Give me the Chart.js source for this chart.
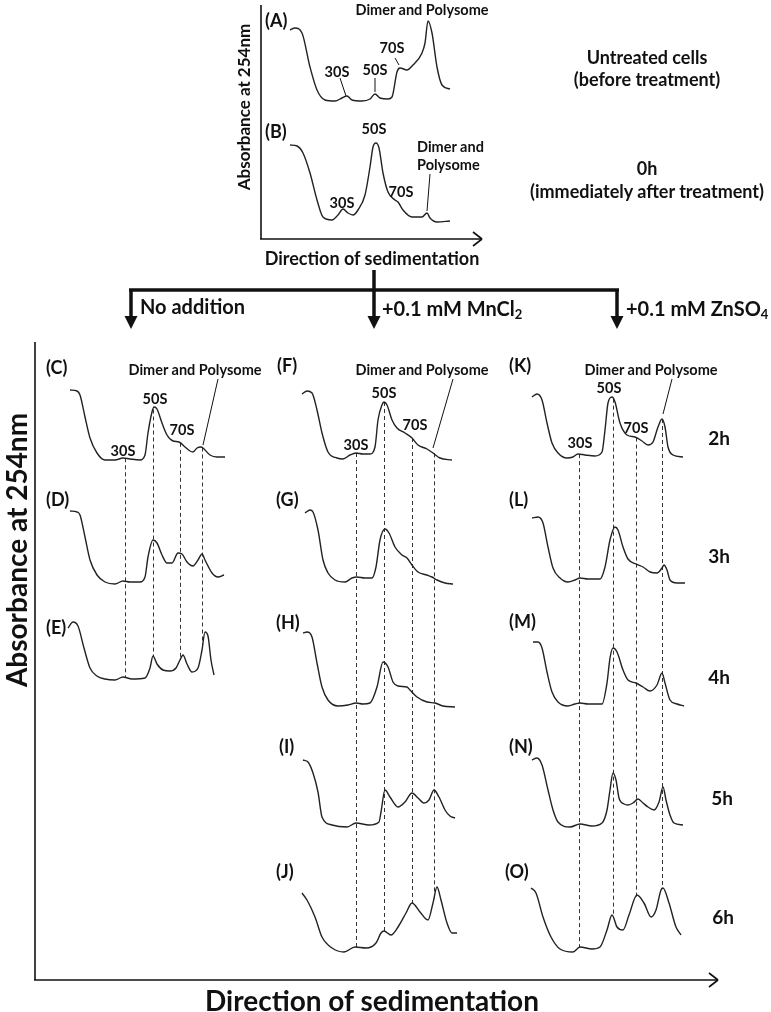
<!DOCTYPE html>
<html>
<head>
<meta charset="utf-8">
<script src="https://cdn.jsdelivr.net/npm/chart.js@4.4.0/dist/chart.umd.min.js"></script>
<style>
  body { margin: 0; background: #fff; }
  #page { position: relative; width: 771px; height: 1012px; overflow: hidden;
          font-family: Lato, "Open Sans", sans-serif; font-weight: 700; color: #111; }
  #page canvas { position: absolute; }
  .lbl { position: absolute; white-space: nowrap; line-height: 1; }
  sub { font-size: 0.65em; vertical-align: -0.25em; line-height: 0; }
</style>
</head>
<body>
<div id="page">
  <canvas id="frame" width="771" height="1012" style="left:0;top:0"></canvas>
  <canvas id="colTop" width="200" height="250" style="left:280px;top:0"></canvas>
  <canvas id="colLeft" width="180" height="370" style="left:60px;top:330px"></canvas>
  <canvas id="colMid" width="190" height="640" style="left:290px;top:330px"></canvas>
  <canvas id="colRight" width="180" height="640" style="left:520px;top:330px"></canvas>
</div>
<script>
// ---- profiles: sedimentation position vs absorbance (A254, arbitrary units) ----
const sedA = [10, 15, 22, 30, 37, 45, 55, 62, 67, 72, 82, 90, 95, 100, 108, 112, 117, 120, 127, 133, 142, 145, 148, 152, 157, 162, 170];
const absA = [71, 73, 68, 34, 11, 1, 0, 3, 5, 1, 0, 2, 7, 3, 2, 4, 29, 33, 31, 36, 48, 58, 80, 68, 34, 16, 12];

const sedB = [10, 17, 23, 30, 37, 43, 52, 58, 63, 68, 73, 78, 85, 90, 93, 96, 99, 103, 108, 115, 118, 123, 132, 142, 147, 150, 157, 170];
const absB = [77, 76, 69, 49, 22, 5, 2, 7, 13, 9, 7, 12, 27, 55, 75, 79, 74, 49, 30, 22, 20, 12, 5, 5, 9, 4, 0, 1];

// no addition
const sedC = [10, 17, 20, 25, 30, 37, 45, 55, 63, 70, 80, 85, 88, 92, 94, 97, 102, 107, 113, 119, 125, 130, 133, 137, 141, 143, 150, 157, 165];
const absC = [70, 69, 65, 43, 22, 7, 0, 0, 2, 1, 0, 5, 27, 48, 53, 51, 37, 25, 19, 18, 13, 9, 8, 12, 13, 12, 5, 3, 3];

const sedD = [10, 17, 20, 25, 30, 37, 45, 55, 63, 70, 80, 85, 88, 93, 97, 102, 107, 112, 118, 122, 127, 133, 138, 142, 145, 152, 158, 164];
const absD = [73, 72, 69, 47, 24, 9, 2, 0, 3, 2, 2, 7, 27, 44, 41, 29, 21, 21, 31, 30, 22, 18, 24, 30, 24, 11, 7, 9];

const sedE = [8, 13, 18, 24, 30, 37, 45, 55, 63, 72, 85, 90, 93, 97, 103, 110, 116, 120, 123, 127, 132, 138, 142, 145, 148, 151, 154];
const absE = [52, 58, 54, 32, 12, 4, 1, 0, 3, 1, 2, 12, 24, 16, 10, 9, 12, 20, 25, 16, 8, 12, 30, 48, 44, 20, 5];

// +0.1 mM MnCl2
const sedF = [12, 17, 22, 27, 32, 38, 47, 53, 60, 66, 73, 80, 85, 88, 92, 94, 97, 102, 107, 115, 122, 128, 137, 143, 150, 162];
const absF = [66, 69, 67, 50, 27, 8, 2, 1, 5, 7, 6, 6, 13, 40, 55, 58, 55, 40, 32, 27, 22, 15, 11, 7, 2, 0];

const sedG = [15, 20, 23, 28, 33, 38, 45, 55, 62, 67, 75, 82, 86, 90, 95, 99, 105, 112, 117, 122, 128, 137, 142, 147, 155, 163];
const absG = [71, 74, 72, 54, 24, 11, 4, 2, 6, 7, 6, 6, 17, 44, 55, 51, 37, 29, 26, 19, 12, 9, 7, 4, 1, 0];

const sedH = [13, 17, 22, 27, 32, 38, 48, 58, 66, 73, 80, 87, 93, 98, 103, 108, 117, 120, 127, 137, 145, 153, 165];
const absH = [74, 75, 70, 44, 20, 7, 1, 2, 4, 3, 4, 20, 45, 40, 25, 21, 20, 17, 10, 5, 4, 1, 0];

const sedI = [13, 18, 23, 28, 32, 42, 57, 66, 79, 89, 91, 95, 100, 108, 115, 122, 128, 134, 139, 144, 149, 155, 160, 165];
const absI = [67, 65, 54, 35, 10, 2, 0, 4, 2, 5, 15, 37, 30, 20, 25, 34, 29, 24, 27, 37, 30, 17, 11, 9];

const sedJ = [12, 17, 25, 32, 42, 54, 65, 76, 86, 91, 94, 101, 108, 116, 122, 130, 138, 143, 147, 151, 157, 162, 167];
const absJ = [59, 52, 35, 15, 4, 0, 5, 4, 9, 19, 21, 17, 25, 39, 49, 40, 32, 49, 65, 52, 29, 19, 19];

// +0.1 mM ZnSO4
const sedK = [12, 17, 22, 27, 32, 38, 47, 53, 58, 65, 75, 82, 85, 88, 92, 95, 100, 107, 115, 122, 128, 133, 138, 142, 145, 148, 153, 163];
const absK = [61, 64, 58, 35, 15, 5, 0, 1, 4, 3, 2, 6, 28, 55, 61, 56, 35, 23, 21, 17, 13, 16, 31, 39, 31, 11, 3, 1];

const sedL = [12, 18, 23, 28, 33, 40, 48, 55, 60, 68, 80, 85, 90, 95, 98, 103, 108, 116, 123, 130, 137, 142, 144, 147, 150, 157, 165];
const absL = [65, 66, 60, 36, 15, 5, 1, 3, 5, 4, 4, 16, 43, 56, 53, 36, 24, 19, 16, 11, 10, 15, 18, 13, 3, 0, 0];

const sedM = [13, 18, 22, 27, 32, 38, 48, 55, 60, 68, 82, 87, 90, 93, 97, 103, 108, 116, 123, 130, 137, 142, 145, 150, 157, 164];
const absM = [64, 64, 58, 34, 14, 4, 0, 2, 3, 2, 2, 23, 48, 58, 54, 36, 26, 23, 19, 15, 21, 33, 23, 6, 2, 0];

const sedN = [12, 17, 22, 28, 33, 38, 50, 60, 72, 82, 87, 90, 93, 96, 99, 104, 108, 113, 118, 123, 128, 134, 139, 143, 146, 150, 154, 163];
const absN = [67, 69, 62, 37, 17, 5, 0, 3, 1, 4, 17, 37, 54, 47, 29, 23, 22, 24, 28, 24, 20, 17, 25, 40, 27, 12, 4, 2];

const sedO = [11, 16, 23, 31, 40, 53, 60, 72, 80, 87, 92, 97, 103, 109, 117, 124, 131, 136, 141, 143, 149, 156, 161];
const absO = [64, 59, 35, 15, 3, 0, 5, 3, 5, 22, 37, 25, 22, 37, 57, 49, 35, 42, 62, 64, 49, 25, 17];

// peak positions (30S, 50S, 70S, dimer/polysome) marked by dashed lines
const peaksNoAdd = [65, 93, 120, 142];
const peaksMn = [66, 94, 122, 143.5];
const peaksZn = [59, 93, 116, 142];

const profiles = {
  A: [sedA, absA], B: [sedB, absB],
  C: [sedC, absC], D: [sedD, absD], E: [sedE, absE],
  F: [sedF, absF], G: [sedG, absG], H: [sedH, absH], I: [sedI, absI], J: [sedJ, absJ],
  K: [sedK, absK], L: [sedL, absL], M: [sedM, absM], N: [sedN, absN], O: [sedO, absO],
};

// layout: canvas, panels and the baseline (page y) of each panel
const columns = [
  { id: "colTop", top: 0, height: 250, width: 200, panels: ["A", "B"], bases: [101, 222], peaks: null },
  { id: "colLeft", top: 330, height: 370, width: 180, panels: ["C", "D", "E"], bases: [460, 584, 680], peaks: peaksNoAdd },
  { id: "colMid", top: 330, height: 640, width: 190, panels: ["F", "G", "H", "I", "J"], bases: [460, 584, 707, 827, 952], peaks: peaksMn },
  { id: "colRight", top: 330, height: 640, width: 180, panels: ["K", "L", "M", "N", "O"], bases: [458, 583, 706, 827, 952], peaks: peaksZn },
];

const TRACE = "#222";

function absAt(sed, abs, x) {
  for (let i = 1; i < sed.length; i++) {
    if (x <= sed[i]) {
      const t = (x - sed[i - 1]) / (sed[i] - sed[i - 1]);
      return abs[i - 1] + t * (abs[i] - abs[i - 1]);
    }
  }
  return abs[abs.length - 1];
}

const peakLines = {
  id: "peakLines",
  beforeDatasetsDraw(chart, args, opts) {
    if (!opts.peaks) return;
    const { ctx, scales } = chart;
    const first = opts.panels[0], last = opts.panels[opts.panels.length - 1];
    ctx.save();
    ctx.strokeStyle = "#333";
    ctx.lineWidth = 1;
    ctx.setLineDash([4, 3]);
    opts.peaks.forEach((p) => {
      const [s1, a1] = profiles[first.key];
      const [s2, a2] = profiles[last.key];
      const x = Math.round(scales.x.getPixelForValue(p)) + 0.5;
      const y1 = scales.y.getPixelForValue(absAt(s1, a1, p) + first.off);
      const y2 = scales.y.getPixelForValue(absAt(s2, a2, p) + last.off);
      ctx.beginPath();
      ctx.moveTo(x, y1);
      ctx.lineTo(x, y2);
      ctx.stroke();
    });
    ctx.restore();
  },
};

function createColumn(col) {
  const bottom = col.top + col.height;
  const panels = col.panels.map((key, k) => ({ key, off: bottom - col.bases[k] }));
  const datasets = panels.map(({ key, off }) => {
    const [sed, abs] = profiles[key];
    return {
      label: key,
      data: sed.map((x, i) => ({ x, y: abs[i] + off })),
      borderColor: TRACE,
      borderWidth: 1.4,
      pointRadius: 0,
      fill: false,
      cubicInterpolationMode: "monotone",
    };
  });

  new Chart(document.getElementById(col.id), {
    type: "line",
    data: { datasets },
    options: {
      responsive: false,
      animation: false,
      events: [],
      layout: { padding: 0 },
      plugins: {
        legend: { display: false },
        tooltip: { enabled: false },
        peakLines: { peaks: col.peaks, panels },
      },
      scales: {
        x: { type: "linear", min: 0, max: col.width, display: false },
        y: { type: "linear", min: 0, max: col.height, display: false },
      },
    },
    plugins: [peakLines],
  });
}

// axes, bracket, arrows and leader lines
const framePlugin = {
  id: "frame",
  afterDraw(chart) {
    const ctx = chart.ctx;
    const line = (x1, y1, x2, y2) => {
      ctx.beginPath();
      ctx.moveTo(x1, y1);
      ctx.lineTo(x2, y2);
      ctx.stroke();
    };
    ctx.save();
    ctx.strokeStyle = "#111";
    ctx.fillStyle = "#111";
    ctx.lineCap = "butt";

    // top profile axes
    ctx.lineWidth = 1.6;
    line(261, 5, 261, 239);
    line(260, 239, 482, 239);
    line(473, 232, 482, 239);
    line(473, 246, 482, 239);

    // treatment bracket
    ctx.lineWidth = 3.5;
    line(374, 270, 374, 290);
    line(129, 290, 619, 290);
    [131, 374, 617].forEach((x) => {
      line(x, 290, x, 318);
      ctx.beginPath();
      ctx.moveTo(x - 6.5, 316);
      ctx.lineTo(x + 6.5, 316);
      ctx.lineTo(x, 329);
      ctx.closePath();
      ctx.fill();
    });

    // main axes
    ctx.lineWidth = 1.6;
    line(35, 342, 35, 980);
    line(34, 980, 718, 980);
    line(709, 973, 718, 980);
    line(709, 987, 718, 980);

    // label leader lines
    ctx.lineWidth = 1;
    line(340, 78, 346, 96);
    line(375, 78, 375, 92);
    line(395, 58, 399, 65);
    line(430, 174, 427, 211);
    line(218, 379, 203, 445);
    line(453, 379, 433, 448);
    line(672, 379, 663, 414);
    ctx.restore();
  },
};

new Chart(document.getElementById("frame"), {
  type: "line",
  data: { datasets: [] },
  options: {
    responsive: false,
    animation: false,
    events: [],
    plugins: { legend: { display: false }, tooltip: { enabled: false } },
    scales: { x: { display: false }, y: { display: false } },
  },
  plugins: [framePlugin],
});

columns.forEach(createColumn);

// text: [html, x, y, size, anchor] (anchor: l = left edge, c = centre, r = rotated)
const S = 14.5;
const texts = [
  ["(A)", 265, 20, 18, "l"],
  ["Dimer and Polysome", 422, 10, S, "c"],
  ["70S", 392, 48, S, "c"],
  ["30S", 337, 72, S, "c"],
  ["50S", 375, 70, S, "c"],
  ["Untreated cells", 647, 57, 18, "c"],
  ["(before treatment)", 647, 79, 18, "c"],
  ["(B)", 265, 131, 18, "l"],
  ["50S", 374, 129, S, "c"],
  ["30S", 342, 203, S, "c"],
  ["70S", 401, 192, S, "c"],
  ["Dimer and", 417, 147, S, "l"],
  ["Polysome", 417, 165, S, "l"],
  ["0h", 647, 168, 18, "c"],
  ["(immediately after treatment)", 647, 191, 18, "c"],
  ["Absorbance at 254nm", 243, 107, 17, "r"],
  ["Direction of sedimentation", 372, 258, 18, "c"],
  ["No addition", 140, 306, 20, "l"],
  ["+0.1 mM MnCl<sub>2</sub>", 382, 308, 20, "l"],
  ["+0.1 mM ZnSO<sub>4</sub>", 626, 308, 20, "l"],

  ["(C)", 46, 367, 18, "l"],
  ["Dimer and Polysome", 195, 370, S, "c"],
  ["50S", 155, 399, S, "c"],
  ["70S", 182, 430, S, "c"],
  ["30S", 123, 451, S, "c"],
  ["(D)", 46, 499, 18, "l"],
  ["(E)", 46, 627, 18, "l"],

  ["(F)", 277, 365, 18, "l"],
  ["Dimer and Polysome", 422, 370, S, "c"],
  ["50S", 384, 393, S, "c"],
  ["70S", 415, 425, S, "c"],
  ["30S", 356, 445, S, "c"],
  ["(G)", 276, 499, 18, "l"],
  ["(H)", 276, 622, 18, "l"],
  ["(I)", 279, 746, 18, "l"],
  ["(J)", 276, 871, 18, "l"],

  ["(K)", 509, 365, 18, "l"],
  ["Dimer and Polysome", 651, 370, S, "c"],
  ["50S", 609, 388, S, "c"],
  ["70S", 636, 428, S, "c"],
  ["30S", 580, 443, S, "c"],
  ["(L)", 509, 499, 18, "l"],
  ["(M)", 509, 621, 18, "l"],
  ["(N)", 509, 746, 18, "l"],
  ["(O)", 505, 871, 18, "l"],

  ["2h", 719, 437, 19, "c"],
  ["3h", 719, 555, 19, "c"],
  ["4h", 719, 676, 19, "c"],
  ["5h", 722, 797, 19, "c"],
  ["6h", 723, 916, 19, "c"],

  ["Absorbance at 254nm", 16, 550, 28, "r"],
  ["Direction of sedimentation", 372, 1000, 28, "c"],
];

const page = document.getElementById("page");
texts.forEach(([html, x, y, size, anchor]) => {
  const d = document.createElement("div");
  d.className = "lbl";
  d.innerHTML = html;
  d.style.left = x + "px";
  d.style.top = y + "px";
  d.style.fontSize = size + "px";
  if (anchor === "l") d.style.transform = "translateY(-50%)";
  else if (anchor === "c") d.style.transform = "translate(-50%, -50%)";
  else d.style.transform = "translate(-50%, -50%) rotate(-90deg)";
  page.appendChild(d);
});
</script>
</body>
</html>
